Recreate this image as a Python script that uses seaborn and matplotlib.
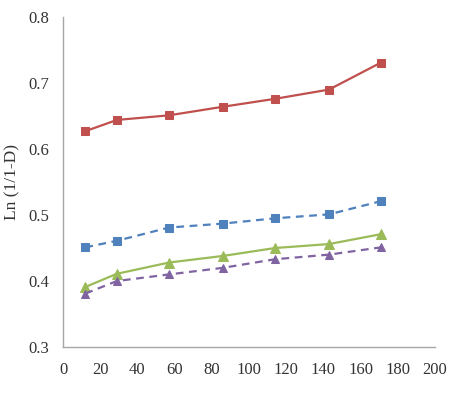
import matplotlib
matplotlib.use("Agg")
import matplotlib.pyplot as plt
import seaborn as sns
import pandas as pd

x_vals = [12, 29, 57, 86, 114, 143, 171]
red_vals = [0.627, 0.644, 0.651, 0.664, 0.676, 0.690, 0.731]
blue_vals = [0.451, 0.461, 0.481, 0.487, 0.495, 0.501, 0.521]
green_vals = [0.391, 0.411, 0.428, 0.438, 0.450, 0.456, 0.471]
purple_vals = [0.381, 0.400, 0.410, 0.420, 0.433, 0.440, 0.451]

sns.set_style("white")
plt.rcParams['font.family'] = ['Liberation Serif', 'DejaVu Serif']

fig = plt.figure(figsize=(4.5, 4.04), dpi=100)
ax = fig.add_axes([0.14, 0.141, 0.8267, 0.817])

series = [
    ("red", red_vals, "#C0504D", "-", "s", 5.5),
    ("blue", blue_vals, "#4F81BD", "--", "s", 5.5),
    ("green", green_vals, "#9BBB59", "-", "^", 7.5),
    ("purple", purple_vals, "#8064A2", "--", "^", 5.5),
]
for name, vals, col, ls, mk, ms in series:
    df = pd.DataFrame({"x": x_vals, "y": vals})
    sns.lineplot(data=df, x="x", y="y", ax=ax, color=col,
                 marker=mk, markersize=ms, markeredgecolor=col, linewidth=1.6)
    ax.lines[-1].set_linestyle((0, (3.5, 2.5)) if ls == "--" else "-")

ax.set_xlim(0, 200)
ax.set_ylim(0.3, 0.8)
ax.set_xticks(range(0, 201, 20))
ax.set_yticks([0.3, 0.4, 0.5, 0.6, 0.7, 0.8])
ax.set_yticklabels(["0.3", "0.4", "0.5", "0.6", "0.7", "0.8"])
ax.set_xlabel("")
ax.set_ylabel("Ln (1/1-D)", fontsize=12.5, color="#333333", va="center")
ax.yaxis.set_label_coords(-0.135, 0.5)
for sp in ["top", "right"]:
    ax.spines[sp].set_visible(False)
for sp in ["left", "bottom"]:
    ax.spines[sp].set_color("#A6A6A6")
    ax.spines[sp].set_linewidth(1.0)
ax.tick_params(axis="both", which="major", direction="out", length=4, width=1,
               color="#A6A6A6", labelsize=12, labelcolor="#333333")
ax.tick_params(axis="x", pad=7)
ax.tick_params(axis="y", pad=6)
ax.grid(False)

fig.savefig("out.png", dpi=100)
